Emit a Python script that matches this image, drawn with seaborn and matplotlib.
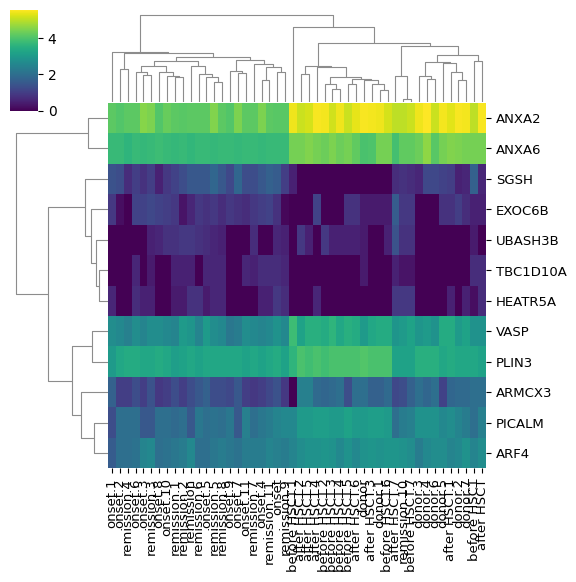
import numpy as np
import pandas as pd
import matplotlib
matplotlib.use("Agg")
import matplotlib.pyplot as plt
import seaborn as sns

genes = ["ANXA2", "ANXA6", "SGSH", "EXOC6B", "UBASH3B", "TBC1D10A",
         "HEATR5A", "VASP", "PLIN3", "ARMCX3", "PICALM", "ARF4"]

samples = ["onset.1", "onset.2", "remission.4", "onset.6", "onset.3", "remission.3",
           "onset.8", "onset.10", "remission.1", "remission.2", "remission", "remission.6",
           "onset.5", "remission.5", "remission.8", "onset.9", "onset.7", "onset.11",
           "remission.7", "onset.4", "remission.11", "onset", "remission.9", "before HSCT.1",
           "after HSCT.2", "after HSCT.5", "after HSCT.4", "before HSCT.2", "before HSCT.3",
           "before HSCT.4", "before HSCT.5", "after HSCT.6", "donor", "after HSCT.3",
           "donor.1", "before HSCT.6", "after HSCT.7", "remission.10", "before HSCT.7",
           "donor.3", "donor.4", "donor.6", "donor.5", "after HSCT.1", "donor.2",
           "donor.7", "before HSCT", "after HSCT"]

anxa2 = [4.15, 4.05, 4.15, 4.15, 4.55, 4.45, 4.05, 4.25,
         4.15, 4.1, 4.15, 4.15, 4.15, 4.5, 4.15, 4.05,
         4.45, 4.15, 4.15, 4.45, 4.15, 4.1, 4.1, 5.4,
         5.1, 5.2, 5.5, 5.45, 5.15, 5.4, 5.1, 5.35,
         5.5, 5.45, 5.4, 5.2, 5.0, 5.0, 5.1, 5.4,
         5.55, 5.1, 5.45, 5.3, 5.5, 5.45, 5.0, 5.5]
anxa6 = [3.75, 3.75, 3.6, 3.75, 3.7, 3.75, 3.8, 3.75,
         3.7, 3.75, 3.65, 3.75, 3.75, 3.7, 3.75, 3.75,
         3.7, 3.75, 3.75, 3.7, 3.75, 3.75, 3.75, 4.4,
         4.4, 4.5, 4.4, 4.3, 4.45, 4.3, 4.4, 4.2,
         3.95, 4.0, 4.4, 4.4, 3.9, 4.2, 4.2, 4.3,
         4.6, 4.1, 4.4, 4.5, 4.45, 4.4, 4.4, 4.4]
sgsh = [1.4, 1.3, 0.7, 1.0, 0.8, 1.0, 0.5, 0.9,
        1.1, 1.3, 1.5, 1.5, 1.5, 1.8, 1.5, 1.2,
        1.8, 1.3, 1.3, 1.5, 1.7, 1.6, 1.0, 0.5,
        0.0, 0.0, 0.0, 0.0, 0.0, 0.0, 0.0, 0.0,
        0.0, 0.0, 0.0, 0.0, 0.7, 0.8, 0.7, 0.6,
        1.2, 1.2, 1.1, 1.0, 0.5, 0.6, 1.7, 0.6]
exoc6b = [0.9, 0.2, 0.0, 1.1, 1.1, 1.2, 1.1, 1.0,
          0.9, 0.3, 0.6, 0.9, 0.8, 0.9, 0.7, 0.9,
          0.8, 0.7, 0.9, 1.0, 1.1, 0.8, 0.1, 0.0,
          0.0, 0.0, 1.1, 0.0, 0.0, 0.0, 0.8, 0.8,
          0.4, 0.4, 0.4, 0.4, 1.6, 0.9, 0.9, 0.0,
          0.0, 0.0, 0.8, 0.8, 1.0, 0.7, 0.5, 0.5]
ubash3b = [0.0, 0.0, 0.0, 0.0, 0.0, 0.5, 0.6, 0.8,
           0.8, 0.9, 0.9, 0.8, 0.7, 0.6, 0.5, 0.0,
           0.0, 0.0, 0.7, 0.0, 0.0, 0.6, 0.5, 0.0,
           0.9, 0.5, 0.0, 0.9, 0.5, 0.5, 0.5, 0.5,
           0.4, 0.0, 0.0, 0.5, 1.4, 0.8, 0.8, 0.0,
           0.0, 0.0, 0.0, 0.0, 0.0, 0.0, 0.4, 0.0]
tbc1d10a = [0.0, 0.0, 0.0, 0.6, 0.0, 0.4, 0.0, 0.0,
            0.5, 0.5, 0.5, 0.0, 0.6, 0.6, 0.6, 0.0,
            0.0, 0.6, 0.5, 0.7, 0.7, 0.7, 0.6, 0.0,
            0.0, 0.0, 0.0, 0.0, 0.0, 0.0, 0.0, 0.0,
            0.4, 0.0, 0.0, 0.0, 0.5, 0.3, 0.3, 0.0,
            0.0, 0.0, 0.0, 0.0, 0.0, 0.0, 0.7, 0.7]
heatr5a = [0.6, 0.0, 0.0, 0.7, 0.5, 0.5, 0.0, 0.0,
           0.4, 0.4, 0.8, 0.8, 0.4, 0.6, 0.6, 0.0,
           0.0, 0.0, 0.0, 0.5, 0.5, 0.9, 0.7, 0.0,
           0.0, 0.0, 0.6, 0.0, 0.0, 0.0, 0.0, 0.0,
           0.0, 0.0, 0.0, 0.0, 0.9, 0.9, 0.9, 0.0,
           0.0, 0.0, 0.0, 0.5, 0.0, 0.5, 0.2, 0.7]
vasp = [2.7, 2.6, 2.4, 2.7, 2.5, 2.7, 2.7, 2.6,
        2.5, 3.0, 2.9, 2.5, 3.0, 2.7, 2.6, 2.2,
        2.3, 2.7, 2.6, 2.5, 2.6, 2.8, 2.6, 3.8,
        3.2, 3.5, 3.5, 3.4, 3.6, 3.3, 3.5, 3.4,
        3.0, 3.3, 3.4, 3.4, 2.9, 3.0, 3.2, 2.9,
        3.0, 2.8, 3.4, 3.4, 3.0, 3.2, 2.8, 2.8]
plin3 = [3.0, 3.3, 3.4, 3.4, 3.3, 3.3, 3.4, 3.3,
         3.1, 3.2, 3.3, 3.2, 3.3, 3.3, 3.3, 3.3,
         3.3, 3.2, 3.3, 3.2, 3.3, 3.4, 3.2, 3.6,
         3.95, 3.85, 3.95, 3.85, 3.95, 3.95, 3.95, 3.95,
         4.05, 3.95, 3.95, 3.95, 3.2, 3.2, 3.2, 3.5,
         3.5, 3.5, 3.3, 3.4, 3.3, 3.3, 3.3, 3.2]
armcx3 = [1.7, 1.0, 1.0, 1.3, 1.0, 1.4, 0.9, 1.0,
          1.3, 1.0, 1.3, 1.5, 1.7, 1.3, 1.3, 1.2,
          1.5, 1.0, 0.9, 1.0, 1.2, 1.4, 0.9, 0.0,
          2.4, 2.4, 1.9, 1.8, 1.9, 2.0, 1.3, 2.0,
          2.0, 1.7, 1.7, 1.9, 1.2, 1.3, 1.7, 2.0,
          1.8, 2.0, 1.1, 1.8, 1.9, 1.9, 2.0, 2.0]
picalm = [1.3, 2.0, 2.0, 2.0, 1.5, 1.5, 2.0, 2.0,
          1.9, 2.0, 1.5, 2.2, 2.0, 2.1, 2.0, 2.2,
          1.5, 2.4, 2.0, 2.2, 2.3, 2.5, 2.6, 2.6,
          3.0, 3.0, 3.1, 3.1, 3.0, 3.0, 3.2, 3.0,
          3.0, 3.1, 3.1, 3.0, 2.0, 2.3, 2.4, 2.8,
          2.8, 2.8, 2.6, 2.7, 2.5, 2.3, 2.0, 2.4]
arf4 = [1.6, 2.0, 2.0, 2.1, 2.5, 2.6, 2.0, 2.1,
        2.2, 2.3, 2.6, 2.0, 2.0, 2.2, 2.3, 2.2,
        2.1, 2.3, 2.3, 2.3, 2.5, 2.4, 2.3, 2.5,
        2.7, 2.8, 2.8, 2.9, 2.8, 2.6, 2.8, 2.6,
        2.8, 2.9, 2.8, 2.9, 2.9, 2.8, 2.7, 2.3,
        2.6, 2.7, 2.7, 2.5, 2.6, 2.8, 2.5, 2.7]

# Dendrogram trees: (merge height, left, right),
# leaves are row / column positions.
row_tree = (275, (60, 0, 1),
            (180, (70, 2, (50, 3, (37, 4, (28, 5, 6)))),
             (107, (48, 7, 8), (80, 9, (43, 10, 11)))))

col_left = (150, 0,
            (147, (100, 1, 2),
             (135, (123, (110, (90, 3, (83, 4, 5)), (90, 6, (80, 7, (75, 8, 9)))),
                    (110, 10, (85, 11, (77, 12, (60, 13, 14))))),
              (127, (95, 15, (88, 16, 17)),
                    (115, 18, (105, (67, 19, 20), (90, 21, 22)))))))
col_right = (225, 23,
             (177, (110, (85, 24, 25),
                    (105, 26, (75, (55, 27, (40, 28, 29)),
                               (70, (55, 30, 31), (67, 32, (55, 33, (37, 34, 35))))))),
              (167, (80, 36, (10, 37, 38)),
                    (143, (120, (80, 39, (70, 40, 41)),
                                (117, 42, (90, 43, (67, 44, 45)))),
                          (125, 46, 47)))))
col_tree = (260, col_left, col_right)


def build_linkage(tree, n):
    nodes = []

    def walk(node):
        if isinstance(node, int):
            return ("L", node), 1
        h, a, b = node
        ra, ca = walk(a)
        rb, cb = walk(b)
        nodes.append((float(h), ra, rb, ca + cb))
        return ("N", len(nodes) - 1), ca + cb

    walk(tree)
    order = sorted(range(len(nodes)), key=lambda k: nodes[k][0])
    final = {k: n + i for i, k in enumerate(order)}

    def ref(r):
        return r[1] if r[0] == "L" else final[r[1]]

    return np.array([[ref(nodes[k][1]), ref(nodes[k][2]), nodes[k][0], nodes[k][3]]
                     for k in order], dtype=float)


data = pd.DataFrame([anxa2, anxa6, sgsh, exoc6b, ubash3b, tbc1d10a, heatr5a,
                     vasp, plin3, armcx3, picalm, arf4], index=genes, columns=samples)

row_Z = build_linkage(row_tree, len(genes))
col_Z = build_linkage(col_tree, len(samples))

g = sns.clustermap(data, cmap="viridis", figsize=(5.5, 5.51),
                   row_linkage=row_Z, col_linkage=col_Z,
                   xticklabels=True, yticklabels=True,
                   tree_kws={"colors": "0.55", "linewidths": 0.8})

W, H = 550.0, 551.0


def pos(x0, y0, x1, y1):
    return [x0 / W, 1 - y1 / H, (x1 - x0) / W, (y1 - y0) / H]


g.ax_heatmap.set_position(pos(106, 99, 484, 464.5))
g.ax_row_dendrogram.set_position(pos(9.7, 99, 106, 464.5))
g.ax_col_dendrogram.set_position(pos(106, 7.3, 484, 98.5))
g.ax_cbar.set_position(pos(8, 6, 36, 107))

g.ax_heatmap.tick_params(axis="x", labelsize=9.5)
g.ax_heatmap.tick_params(axis="y", labelsize=9.5)
g.ax_heatmap.set_xlabel("")
g.ax_heatmap.set_ylabel("")
g.ax_cbar.tick_params(labelsize=10)

g.savefig("out.png", dpi=100)
